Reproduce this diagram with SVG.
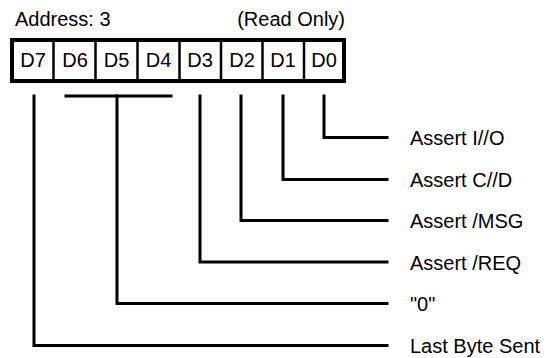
<svg xmlns="http://www.w3.org/2000/svg" width="550" height="358" viewBox="0 0 550 358">
<style>
text{font-family:"Liberation Sans",Arial,sans-serif;font-size:20px;fill:#000}
.c{text-anchor:middle}
.box{fill:#fff;stroke:#000;stroke-width:4}
.div{stroke:#000;stroke-width:2.5}
.w{fill:none;stroke:#000;stroke-width:3;stroke-linecap:square}
</style>
<rect width="550" height="358" fill="#fff"/>
<g id="header">
<text x="15" y="26">Address: 3</text>
<text x="345" y="26" text-anchor="end">(Read Only)</text>
</g>
<g id="register">
<rect class="box" x="12" y="40" width="332" height="41"/>
<line class="div" x1="53.5" y1="40" x2="53.5" y2="82"/>
<line class="div" x1="95.5" y1="40" x2="95.5" y2="82"/>
<line class="div" x1="137.5" y1="40" x2="137.5" y2="82"/>
<line class="div" x1="179.5" y1="40" x2="179.5" y2="82"/>
<line class="div" x1="221" y1="40" x2="221" y2="82"/>
<line class="div" x1="262.5" y1="40" x2="262.5" y2="82"/>
<line class="div" x1="304" y1="40" x2="304" y2="82"/>
<text class="c" x="33" y="67">D7</text>
<text class="c" x="75" y="67">D6</text>
<text class="c" x="116.5" y="67">D5</text>
<text class="c" x="158.5" y="67">D4</text>
<text class="c" x="200" y="67">D3</text>
<text class="c" x="242" y="67">D2</text>
<text class="c" x="283" y="67">D1</text>
<text class="c" x="324" y="67">D0</text>
</g>
<g id="connectors">
<polyline class="w" points="324,96 324,137.5 387,137.5"/>
<polyline class="w" points="283,96 283,179.5 387,179.5"/>
<polyline class="w" points="241,96 241,220.5 387,220.5"/>
<polyline class="w" points="200,96 200,262 387,262"/>
<line class="w" x1="66" y1="96" x2="171" y2="96"/>
<polyline class="w" points="117,96 117,303.5 387,303.5"/>
<polyline class="w" points="34,96 34,345.5 387,345.5"/>
</g>
<g id="labels">
<text x="410" y="145">Assert I//O</text>
<text x="410" y="187">Assert C//D</text>
<text x="410" y="228">Assert /MSG</text>
<text x="410" y="269.5">Assert /REQ</text>
<text x="410" y="311">"0"</text>
<text x="410" y="353">Last Byte Sent</text>
</g>
</svg>
